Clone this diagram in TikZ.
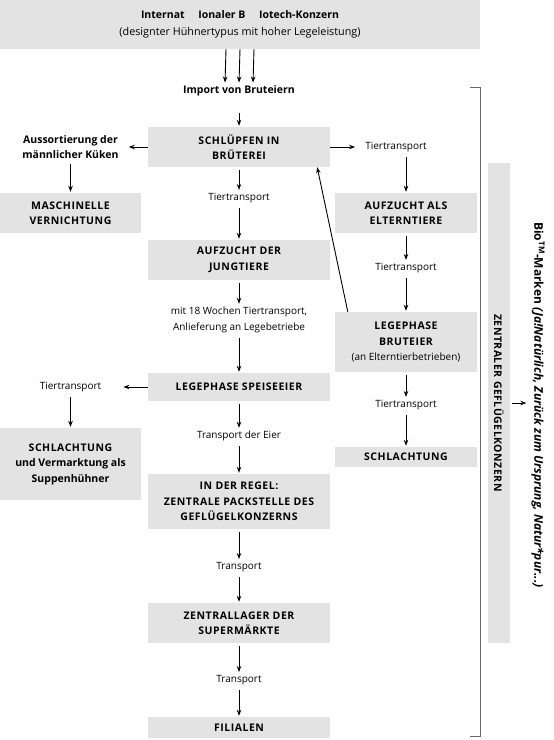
\documentclass[tikz,border=0pt]{standalone}
\usepackage{fontspec}
\setmainfont{Open Sans}
\newfontfamily\kapsfamily[LetterSpace=5]{Open Sans}
\usetikzlibrary{arrows.meta,calc}
\definecolor{kastengrau}{RGB}{227,227,227}
\definecolor{klammergrau}{RGB}{105,105,105}
\newcommand{\kaps}{\kapsfamily\bfseries\fontsize{10.5}{15.5}\selectfont}
\newcommand{\fettlabel}{\normalfont\bfseries\fontsize{10.5}{15.5}\selectfont}
\newcommand{\normtext}{\normalfont\fontsize{10}{16}\selectfont}
\tikzset{
    kasten/.style={fill=kastengrau, align=center, inner sep=0pt, font=\kaps},
    etikett/.style={align=center, inner sep=2pt, font=\normtext},
    pfeil/.style={-{Stealth[length=6pt,width=4.5pt]}, line width=0.9pt, shorten <=3pt, shorten >=1pt},
  }

\begin{document}
\begin{tikzpicture}[x=1pt,y=-1pt]
          %Massstab: 1pt = 1 Pixel, y nach unten
          %Hauptspalte bei x=239, rechte Spalte bei x=406, linke bei x=70.5
          \useasboundingbox (0,0) rectangle (554,740);
          \node[kasten, font=\fettlabel, minimum width=480pt, minimum height=49pt] (kopf) at (240,24.5)
               {Internat\hspace{1.3em}Ionaler B\hspace{1.3em}Iotech-Konzern\\[1pt]{\normalfont\fontsize{10.8}{16}\selectfont (designter Hühnertypus mit hoher Legeleistung)}};
          \node[etikett, font=\fettlabel] (import) at (239,91) {Import von Bruteiern};
          \node[kasten, minimum width=182pt, minimum height=40pt] (schluepfen) at (239,147) {SCHLÜPFEN IN\\BRÜTEREI};
          \node[etikett, font=\fettlabel] (aussort) at (70.5,147) {Aussortierung der\\männlicher Küken};
          \node[kasten, minimum width=141pt, minimum height=40pt] (vernichtung) at (70.5,213) {MASCHINELLE\\VERNICHTUNG};
          \node[etikett] (tt1) at (396,147) {Tiertransport};
          \node[kasten, minimum width=142pt, minimum height=40pt] (eltern) at (406,213) {AUFZUCHT ALS\\ELTERNTIERE};
          \node[etikett] (tt2) at (406,268) {Tiertransport};
          \node[kasten, minimum width=142pt, minimum height=60pt] (bruteier) at (406,342)
               {LEGEPHASE\\BRUTEIER\\{\normtext (an Elterntierbetrieben)}};
          \node[etikett] (tt3) at (406,405) {Tiertransport};
          \node[kasten, minimum width=142pt, minimum height=20pt] (schlachtr) at (406,457) {SCHLACHTUNG};
          \node[etikett] (tt4) at (239,198) {Tiertransport};
          \node[kasten, minimum width=182pt, minimum height=40pt] (jungtiere) at (239,260) {AUFZUCHT DER\\JUNGTIERE};
          \node[etikett] (wochen) at (239,320) {mit 18 Wochen Tiertransport,\\Anlieferung an Legebetriebe};
          \node[kasten, minimum width=182pt, minimum height=28pt] (speiseeier) at (239,387) {LEGEPHASE SPEISEEIER};
          \node[etikett] (tt5) at (70.5,387) {Tiertransport};
          \node[kasten, minimum width=141pt, minimum height=72pt] (schlachtl) at (70.5,464)
               {SCHLACHTUNG\\{\fettlabel und Vermarktung als}\\{\fettlabel Suppenhühner}};
          \node[etikett] (eier) at (239,436) {Transport der Eier};
          \node[kasten, minimum width=182pt, minimum height=55pt] (packstelle) at (239,501.5)
               {IN DER REGEL:\\ZENTRALE PACKSTELLE DES\\GEFLÜGELKONZERNS};
          \node[etikett] (tr1) at (239,567) {Transport};
          \node[kasten, minimum width=182pt, minimum height=40pt] (lager) at (239,623) {ZENTRALLAGER DER\\SUPERMÄRKTE};
          \node[etikett] (tr2) at (239,680) {Transport};
          \node[kasten, minimum width=182pt, minimum height=21pt] (filialen) at (239,727.5) {FILIALEN};
          %Konzern-Balken und Marken
          \node[kasten, rotate=-90, minimum width=480pt, minimum height=22pt] (konzern) at (499,403) {ZENTRALER GEFLÜGELKONZERN};
          \node[etikett, rotate=-90, font=\normalfont\bfseries\fontsize{12}{14}\selectfont] (marken) at (538,405)
               {Bio\textsuperscript{TM}-Marken \textit{(Ja!Natürlich, Zurück zum Ursprung, Natur*pur...)}};
          \draw[klammergrau, line width=1pt] (470,87) -- (480,87) -- (480,736) -- (470,736);
          %Pfeile
          \foreach \dx in {-14,0,14}
               \draw[pfeil, shorten <=0pt] ([xshift=\dx pt]kopf.south) -- ([xshift=\dx pt]import.north);
          \draw[pfeil, shorten <=15pt] (import) -- (schluepfen);
          \foreach \a/\b in {schluepfen/tt4, tt4/jungtiere, jungtiere/wochen, wochen/speiseeier, speiseeier/eier,
                             eier/packstelle, packstelle/tr1, tr1/lager, lager/tr2, tr2/filialen,
                             aussort/vernichtung, eltern/tt2, tt2/bruteier, bruteier/tt3, tt3/schlachtr, tt5/schlachtl}
               \draw[pfeil] (\a) -- (\b);
          \draw[pfeil] (tt1.south -| eltern.north) -- (eltern.north);
          \draw[pfeil, shorten <=0pt, shorten >=8pt] (schluepfen) -- (aussort);
          \draw[pfeil, shorten <=0pt, shorten >=8pt] (schluepfen) -- (tt1);
          \draw[pfeil, shorten <=0pt, shorten >=20pt] (speiseeier) -- (tt5);
          \draw[pfeil, shorten <=0pt, shorten >=0pt] ([xshift=13pt]bruteier.north west) -- ([xshift=-13pt]schluepfen.south east);
          \draw[pfeil, shorten <=2pt, shorten >=3pt] (konzern.north) -- (konzern.north -| marken.south);
\end{tikzpicture}
\end{document}
